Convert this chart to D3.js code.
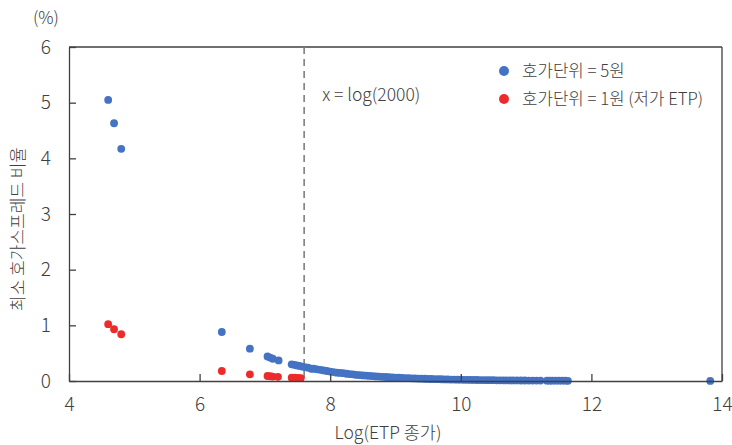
<!DOCTYPE html>
<html>
<head>
<meta charset="utf-8">
<script src="https://cdn.jsdelivr.net/npm/d3@7"></script>
<style>
  body { margin: 0; background: #fff; }
  text { font-family: "Noto Sans CJK KR", "Noto Sans", sans-serif; fill: #404040; font-weight: 300; }
</style>
</head>
<body>
<div id="chart"></div>
<script>
// 호가단위 = 5원
const blueLogPrice = [4.60, 4.69, 4.80, 6.34, 6.77, 7.04, 7.08, 7.12, 7.21,
  7.41, 7.45, 7.49, 7.53, 7.57, 7.61, 7.66, 7.71, 7.75, 7.80, 7.85, 7.90, 7.95,
  8.00, 8.05, 8.10, 8.15, 8.20, 8.25, 8.30, 8.35, 8.40, 8.45, 8.50, 8.55, 8.60,
  8.65, 8.70, 8.75, 8.80, 8.85, 8.90, 8.95, 9.00, 9.05, 9.10, 9.15, 9.20, 9.25,
  9.30, 9.35, 9.40, 9.45, 9.50, 9.55, 9.60, 9.65, 9.70, 9.75, 9.80, 9.85, 9.90,
  9.95, 10.00, 10.05, 10.10, 10.15, 10.20, 10.25, 10.30, 10.35, 10.40, 10.45,
  10.50, 10.55, 10.60, 10.65, 10.70, 10.75, 10.80, 10.86, 10.92, 10.98, 11.04,
  11.10, 11.16, 11.22, 11.32, 11.36, 11.40, 11.45, 11.50, 11.55, 11.60, 11.64,
  13.82];
const blueSpread = [5.05, 4.63, 4.17, 0.88, 0.58, 0.44, 0.42, 0.40, 0.37,
  0.30, 0.29, 0.28, 0.27, 0.26, 0.25, 0.24, 0.22, 0.22, 0.21, 0.20, 0.19, 0.18,
  0.17, 0.16, 0.15, 0.145, 0.14, 0.13, 0.125, 0.12, 0.11, 0.107, 0.10, 0.097, 0.092,
  0.088, 0.083, 0.079, 0.075, 0.072, 0.068, 0.065, 0.062, 0.059, 0.056, 0.053, 0.051, 0.048,
  0.046, 0.044, 0.041, 0.040, 0.037, 0.036, 0.034, 0.032, 0.031, 0.029, 0.028, 0.026, 0.025,
  0.024, 0.023, 0.022, 0.021, 0.020, 0.019, 0.018, 0.017, 0.016, 0.015, 0.014,
  0.014, 0.013, 0.012, 0.012, 0.011, 0.011, 0.010, 0.010, 0.009, 0.009, 0.008,
  0.008, 0.007, 0.007, 0.006, 0.006, 0.006, 0.005, 0.005, 0.005, 0.005, 0.004,
  0.001];

// 호가단위 = 1원 (저가 ETP)
const redLogPrice = [4.60, 4.69, 4.80, 6.34, 6.77, 7.04, 7.08, 7.12, 7.20, 7.41, 7.46, 7.51, 7.55];
const redSpread = [1.02, 0.93, 0.84, 0.18, 0.12, 0.09, 0.085, 0.08, 0.075, 0.06, 0.058, 0.055, 0.053];

const xTicks = [4, 6, 8, 10, 12, 14];
const yTicks = [0, 1, 2, 3, 4, 5, 6];
const thresholdX = Math.log(2000);

const legendItems = ["호가단위 = 5원", "호가단위 = 1원 (저가 ETP)"];
const colors = ["#4472C4", "#EE2B2B"];

const W = 732, H = 445;
const margin = { top: 47, right: 10, bottom: 64, left: 69 };
const width = W - margin.left - margin.right;
const height = H - margin.top - margin.bottom;

const svg = d3.select("#chart")
    .append("svg")
    .attr("width", W)
    .attr("height", H);

const g = svg.append("g")
    .attr("transform", "translate(" + margin.left + "," + margin.top + ")");

const xScale = d3.scaleLinear().domain([4, 14]).range([0, width]);
const yScale = d3.scaleLinear().domain([0, 6]).range([height, 0]);

// box top / right
g.append("line").attr("x1", 0).attr("x2", width).attr("y1", 0).attr("y2", 0)
    .attr("stroke", "#404040").attr("stroke-width", 1.3);
g.append("line").attr("x1", width).attr("x2", width).attr("y1", 0).attr("y2", height)
    .attr("stroke", "#404040").attr("stroke-width", 1.3);

// dashed threshold
g.append("line")
    .attr("x1", xScale(thresholdX)).attr("x2", xScale(thresholdX))
    .attr("y1", 0).attr("y2", height)
    .attr("stroke", "#7f7f7f").attr("stroke-width", 1.6)
    .attr("stroke-dasharray", "7,5");

g.append("text")
    .attr("x", xScale(thresholdX) + 18)
    .attr("y", 54)
    .style("font-size", "17.5px")
    .text("x = log(2000)");

// points
const series = [
  blueLogPrice.map((d, i) => [d, blueSpread[i]]),
  redLogPrice.map((d, i) => [d, redSpread[i]])
];

series.forEach((pts, s) => {
  g.selectAll(".dot" + s)
      .data(pts)
      .enter()
      .append("circle")
      .attr("class", "dot" + s)
      .attr("cx", d => xScale(d[0]))
      .attr("cy", d => yScale(d[1]))
      .attr("r", 3.9)
      .attr("fill", colors[s]);
});

// axes
const xAxis = g.append("g")
    .attr("transform", "translate(0," + height + ")")
    .call(d3.axisBottom(xScale).tickValues(xTicks).tickFormat(d3.format("d"))
      .tickSizeInner(-7).tickSizeOuter(0).tickPadding(17));

const yAxis = g.append("g")
    .call(d3.axisLeft(yScale).tickValues(yTicks).tickFormat(d3.format("d"))
      .tickSizeInner(-7).tickSizeOuter(0).tickPadding(18));

[xAxis, yAxis].forEach(a => {
  a.select(".domain").attr("stroke", "#404040").attr("stroke-width", 1.3);
  a.selectAll(".tick line").attr("stroke", "#404040").attr("stroke-width", 1.3);
  a.selectAll(".tick text").style("font-size", "19px").attr("fill", "#404040");
});

// axis titles
svg.append("text")
    .attr("x", 388)
    .attr("y", 439)
    .attr("text-anchor", "middle")
    .style("font-size", "17.5px")
    .text("Log(ETP 종가)");

svg.append("text")
    .attr("transform", "translate(24,229) rotate(-90)")
    .attr("text-anchor", "middle")
    .style("font-size", "17px")
    .text("최소 호가스프레드 비율");

svg.append("text")
    .attr("x", 46)
    .attr("y", 24)
    .attr("text-anchor", "middle")
    .style("font-size", "17px")
    .text("(%)");

// legend
const legend = svg.append("g").attr("transform", "translate(504,71)");
legendItems.forEach((label, i) => {
  const row = legend.append("g").attr("transform", "translate(0," + (i * 28) + ")");
  row.append("circle").attr("r", 5).attr("fill", colors[i]);
  row.append("text").attr("x", 18).attr("y", 6)
      .style("font-size", "16.8px")
      .text(label);
});
</script>
</body>
</html>
